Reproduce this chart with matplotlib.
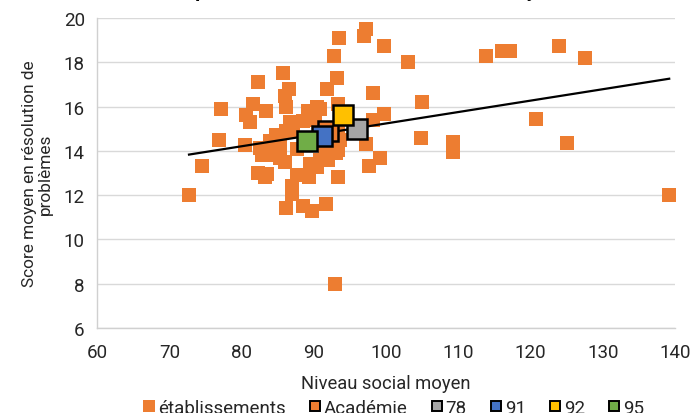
import numpy as np
import matplotlib
matplotlib.use("Agg")
import matplotlib.pyplot as plt

plt.rcParams['font.family'] = ['Roboto', 'DejaVu Sans']

# niveau social moyen / score moyen des etablissements
ets_x = [97.2, 96.9, 93.5, 99.7, 92.8, 103.0, 113.8, 116.0, 117.1, 124.0, 127.5,
         85.7, 82.2, 93.2, 86.5, 91.8, 98.2, 86.0, 86.1, 77.2, 81.6, 80.6, 81.2,
         83.4, 89.2, 90.4, 90.8, 93.3, 104.9, 99.7, 98.2, 120.8, 88.5, 90.1, 86.7,
         86.2, 87.1, 76.9, 80.4, 82.5, 82.75, 83.9, 84.8, 85.3, 83.9, 84.8, 85.3,
         86.0, 87.6, 93.6, 93.4, 93.35, 104.8, 97.2, 109.3, 109.3, 125.0, 74.45,
         82.3, 83.45, 83.2, 72.7, 86.9, 86.9, 86.1, 93.1, 99.2, 97.6, 89.4, 90.8,
         90.4, 92.0, 87.6, 88.5, 89.3, 93.35, 88.5, 89.7, 91.65, 92.9, 139.2,
         90.5, 91.5]
ets_y = [19.5, 19.2, 19.1, 18.75, 18.3, 18.0, 18.3, 18.5, 18.5, 18.75, 18.2,
         17.5, 17.1, 17.3, 16.8, 16.8, 16.6, 16.5, 16.0, 15.9, 16.1, 15.6, 15.3,
         15.8, 15.8, 16.0, 15.9, 16.1, 16.2, 15.65, 15.4, 15.45, 15.35, 15.4, 15.3,
         14.9, 14.9, 14.5, 14.25, 14.15, 13.8, 14.45, 14.7, 14.25, 13.8, 13.85, 13.7,
         13.5, 14.1, 14.5, 14.9, 14.05, 14.6, 14.3, 14.4, 13.95, 14.35, 13.3,
         13.0, 12.95, 12.8, 12.0, 12.4, 12.05, 11.4, 13.9, 13.7, 13.3, 13.4, 13.6,
         13.25, 13.6, 12.9, 12.9, 12.8, 12.8, 11.5, 11.3, 11.6, 8.0, 12.0,
         14.5, 14.2]

# moyennes: academie et departements
groupes = ['Académie', '78', '91', '92', '95']
grp_x = [92.0, 96.0, 91.05, 94.0, 89.0]
grp_y = [14.88, 15.0, 14.68, 15.6, 14.45]
grp_couleurs = ['#ED7D31', '#A5A5A5', '#4472C4', '#FFC000', '#70AD47']

orange = '#ED7D31'
texte = '#262626'

fig = plt.figure(figsize=(6.92, 4.14), dpi=100)
ax = fig.add_axes([0.1406, 0.2053, 0.8348, 0.7488])

ax.plot(ets_x, ets_y, 's', color=orange, markersize=9.4, markeredgewidth=0,
        label='établissements', zorder=3)

# droite de tendance lineaire
a, b = np.polyfit(ets_x, ets_y, 1)
xt = np.array([min(ets_x), max(ets_x)])
ax.plot(xt, a * xt + b, color='black', linewidth=1.6, zorder=4)

for nom, gx, gy, c in zip(groupes, grp_x, grp_y, grp_couleurs):
    ax.plot([gx], [gy], 's', color=c, markersize=14, markeredgecolor='black',
            markeredgewidth=1.8, label=nom, zorder=5)

ax.set_xlim(60, 140)
ax.set_ylim(6, 20)
ax.set_xticks(np.arange(60, 141, 10))
ax.set_yticks(np.arange(6, 21, 2))
ax.tick_params(length=0, labelsize=13.5, colors=texte)
ax.tick_params(axis='x', pad=11)
ax.tick_params(axis='y', pad=9)
ax.yaxis.grid(True, color='#D9D9D9', linewidth=1)
ax.set_axisbelow(True)
for s in ['top', 'right']:
    ax.spines[s].set_visible(False)
for s in ['left', 'bottom']:
    ax.spines[s].set_color('#D0D0D0')
    ax.spines[s].set_linewidth(1)

ax.set_xlabel('Niveau social moyen', fontsize=13.2, color=texte, labelpad=9)
ax.set_ylabel('Score moyen en résolution de\nproblèmes', fontsize=12.4,
              color=texte, labelpad=8, linespacing=1.05)

fig.text(0.528, 1.008, 'Impact du niveau social sur le score moyen', ha='center',
         va='baseline', fontsize=14.3, fontweight='bold')

handles, labels = ax.get_legend_handles_labels()
leg = fig.legend(handles, labels, loc='center', bbox_to_anchor=(0.569, 0.012),
                 ncol=6, frameon=False, fontsize=13.5, handlelength=0.6,
                 handletextpad=0.18, columnspacing=1.25)
for h in leg.legend_handles:
    if h.get_markeredgewidth() > 0:
        h.set_markersize(6.8)
        h.set_markeredgewidth(1.4)
    else:
        h.set_markersize(8)
for t in leg.get_texts():
    t.set_color(texte)

fig.savefig('out.png', dpi=100)
